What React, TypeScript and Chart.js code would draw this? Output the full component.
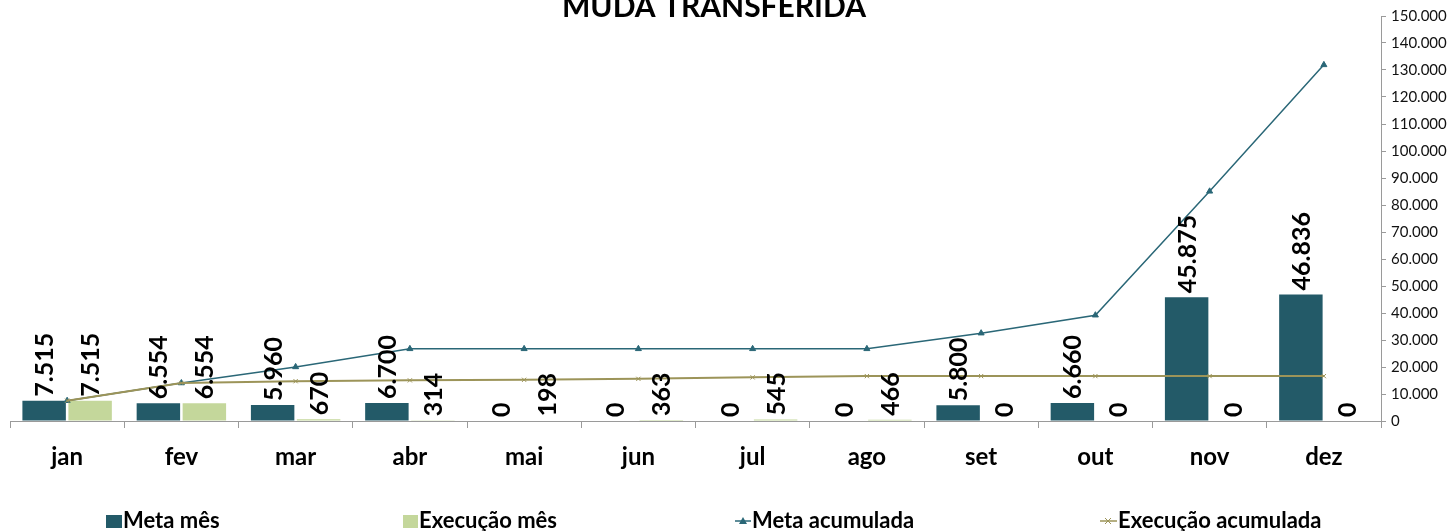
import React, { useEffect, useRef } from "react";
import { Chart, registerables } from "chart.js";

Chart.register(...registerables);

const categories = ["jan", "fev", "mar", "abr", "mai", "jun", "jul", "ago", "set", "out", "nov", "dez"];
const metaMes = [7515, 6554, 5960, 6700, 0, 0, 0, 0, 5800, 6660, 45875, 46836];
const execucaoMes = [7515, 6554, 670, 314, 198, 363, 545, 466, 0, 0, 0, 0];
const metaAcumulada = [7515, 14069, 20029, 26729, 26729, 26729, 26729, 26729, 32529, 39189, 85064, 131900];
const execucaoAcumulada = [7515, 14069, 14739, 15053, 15251, 15614, 16159, 16625, 16625, 16625, 16625, 16625];
const seriesNames = ["Meta mês", "Execução mês", "Meta acumulada", "Execução acumulada"];
const chartTitle = "MUDA TRANSFERIDA";
const yMax = 150000;
const yStep = 10000;

const COLOR_META = "#235A68";
const COLOR_EXEC = "#C4D79B";
const COLOR_META_LINE = "#2A6777";
const COLOR_EXEC_LINE = "#9C9459";
const AXIS_COLOR = "#9A9A9A";
const FONT = "Lato, 'Open Sans', sans-serif";

function fmt(v: number): string {
  const s = Math.round(v).toString();
  return s.replace(/\B(?=(\d{3})+(?!\d))/g, ".");
}

const labelsPlugin = {
  id: "barLabels",
  afterDatasetsDraw(chart: any) {
    const ctx = chart.ctx;
    ctx.save();
    ctx.font = `bold 25px ${FONT}`;
    ctx.fillStyle = "#000";
    ctx.textAlign = "left";
    ctx.textBaseline = "alphabetic";
    [0, 1].forEach((di) => {
      const meta = chart.getDatasetMeta(di);
      const data = chart.data.datasets[di].data as number[];
      meta.data.forEach((el: any, i: number) => {
        ctx.save();
        ctx.translate(el.x + 9, el.y - 4);
        ctx.rotate(-Math.PI / 2);
        ctx.fillText(fmt(data[i]), 0, 0);
        ctx.restore();
      });
    });
    ctx.restore();
  },
};

const decorPlugin = {
  id: "decor",
  afterDraw(chart: any) {
    const ctx = chart.ctx;
    ctx.save();
    // title
    ctx.font = `bold 30px ${FONT}`;
    ctx.fillStyle = "#000";
    ctx.textAlign = "center";
    ctx.textBaseline = "alphabetic";
    ctx.fillText(chartTitle, 714, 17);

    // legend
    ctx.font = `bold 22px ${FONT}`;
    ctx.textAlign = "left";
    const baseY = 528;
    // Meta mês
    ctx.fillStyle = COLOR_META;
    ctx.fillRect(106, 515, 16, 13);
    ctx.fillStyle = "#000";
    ctx.fillText(seriesNames[0], 123, baseY);
    // Execução mês
    ctx.fillStyle = COLOR_EXEC;
    ctx.fillRect(403, 515, 15, 13);
    ctx.fillStyle = "#000";
    ctx.fillText(seriesNames[1], 419, baseY);
    // Meta acumulada
    ctx.strokeStyle = COLOR_META_LINE;
    ctx.lineWidth = 1.5;
    ctx.beginPath();
    ctx.moveTo(735, 521);
    ctx.lineTo(751, 521);
    ctx.stroke();
    ctx.fillStyle = COLOR_META_LINE;
    ctx.beginPath();
    ctx.moveTo(743, 517);
    ctx.lineTo(747, 524);
    ctx.lineTo(739, 524);
    ctx.closePath();
    ctx.fill();
    ctx.fillStyle = "#000";
    ctx.fillText(seriesNames[2], 752, baseY);
    // Execução acumulada
    ctx.strokeStyle = COLOR_EXEC_LINE;
    ctx.lineWidth = 1.5;
    ctx.beginPath();
    ctx.moveTo(1100, 521);
    ctx.lineTo(1117, 521);
    ctx.stroke();
    ctx.lineWidth = 1;
    ctx.beginPath();
    ctx.moveTo(1105, 518);
    ctx.lineTo(1111, 524);
    ctx.moveTo(1111, 518);
    ctx.lineTo(1105, 524);
    ctx.stroke();
    ctx.fillStyle = "#000";
    ctx.fillText(seriesNames[3], 1118, baseY);
    ctx.restore();
  },
};

export default function App() {
  const ref = useRef<HTMLCanvasElement | null>(null);
  useEffect(() => {
    if (!ref.current) return;
    const chart = new Chart(ref.current, {
      data: {
        labels: categories,
        datasets: [
          {
            type: "bar",
            label: seriesNames[0],
            data: metaMes,
            backgroundColor: COLOR_META,
            categoryPercentage: 0.805,
            barPercentage: 0.945,
            order: 2,
          },
          {
            type: "bar",
            label: seriesNames[1],
            data: execucaoMes,
            backgroundColor: COLOR_EXEC,
            categoryPercentage: 0.805,
            barPercentage: 0.945,
            order: 2,
          },
          {
            type: "line",
            label: seriesNames[2],
            data: metaAcumulada,
            borderColor: COLOR_META_LINE,
            backgroundColor: COLOR_META_LINE,
            borderWidth: 1.5,
            pointStyle: "triangle",
            pointRadius: 3.5,
            pointBorderWidth: 1,
            tension: 0,
            order: 1,
          },
          {
            type: "line",
            label: seriesNames[3],
            data: execucaoAcumulada,
            borderColor: COLOR_EXEC_LINE,
            backgroundColor: COLOR_EXEC_LINE,
            borderWidth: 2,
            pointStyle: "crossRot",
            pointRadius: 3,
            pointBorderWidth: 1,
            tension: 0,
            order: 0,
          },
        ] as any,
      },
      options: {
        animation: false,
        responsive: false,
        maintainAspectRatio: false,
        layout: { padding: { top: 16, left: 10, right: 0, bottom: 0 } },
        plugins: {
          legend: { display: false },
          title: { display: false },
          tooltip: { enabled: false },
        },
        scales: {
          x: {
            offset: true,
            grid: {
              offset: true,
              drawOnChartArea: false,
              drawTicks: true,
              tickLength: 7,
              color: AXIS_COLOR,
            },
            border: { display: true, color: AXIS_COLOR },
            ticks: {
              padding: 15,
              color: "#000",
              font: { family: FONT, size: 24, weight: "bold" },
              maxRotation: 0,
            },
            afterFit: (s: any) => {
              s.height = 110;
            },
          },
          y: {
            position: "right",
            min: 0,
            max: yMax,
            grid: {
              drawOnChartArea: false,
              drawTicks: true,
              tickLength: 5,
              color: AXIS_COLOR,
            },
            border: { display: true, color: AXIS_COLOR },
            ticks: {
              stepSize: yStep,
              padding: 5,
              color: "#111",
              font: { family: FONT, size: 15 },
              callback: (v: any) => fmt(Number(v)),
            },
            afterFit: (s: any) => {
              s.width = 74;
            },
          },
        },
      },
      plugins: [labelsPlugin, decorPlugin],
    } as any);
    return () => chart.destroy();
  }, []);
  return (
    <div style={{ position: "absolute", left: 0, top: 0, width: 1455, height: 531, background: "#fff" }}>
      <canvas ref={ref} width={1455} height={531} style={{ display: "block" }} />
    </div>
  );
}
